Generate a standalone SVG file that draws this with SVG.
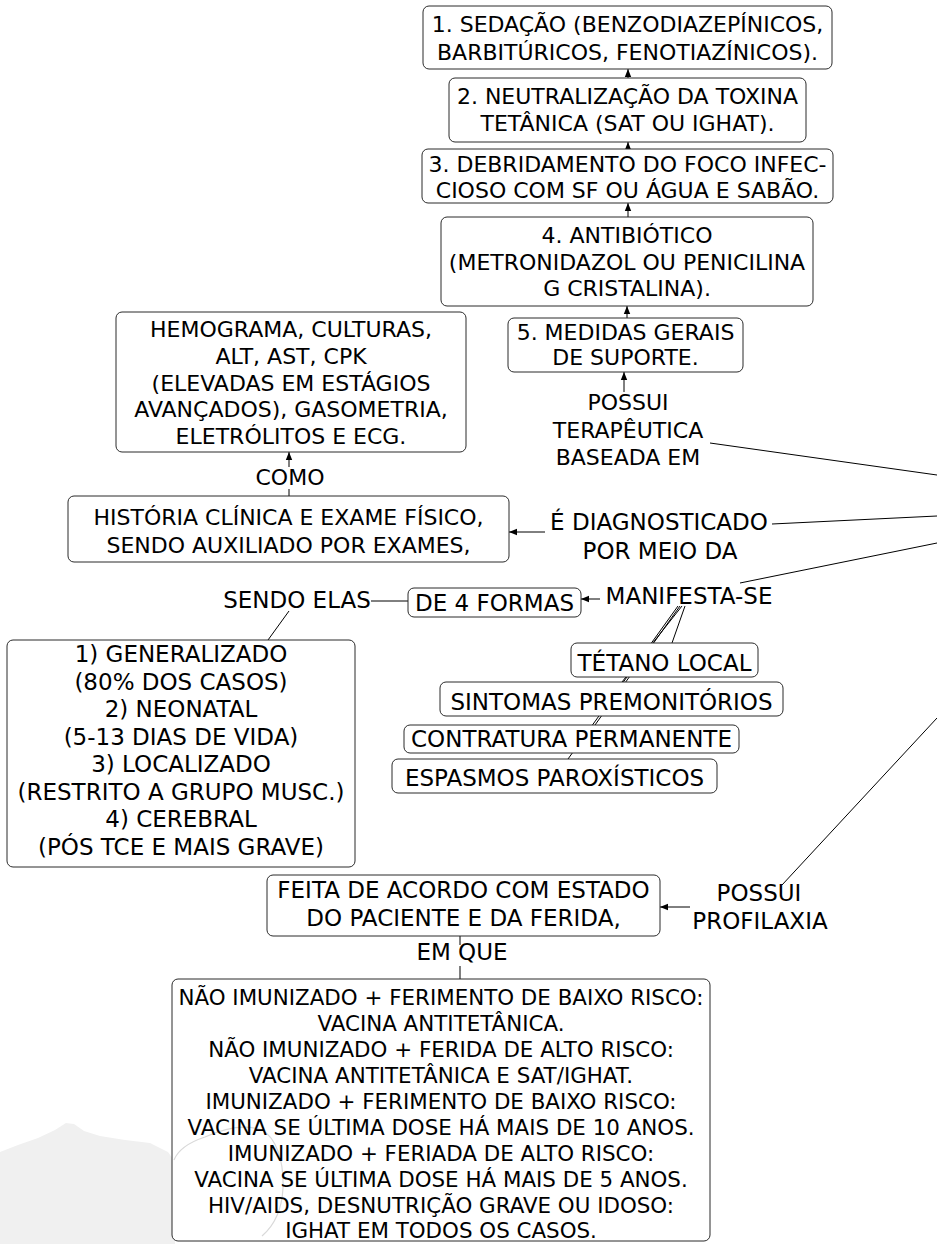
<svg xmlns="http://www.w3.org/2000/svg" width="937" height="1244" viewBox="0 0 937 1244">
  <defs>
    <style>
      .box { fill: #ffffff; stroke: #2b2b2b; stroke-width: 1; }
      .t { font-family: "DejaVu Sans", Verdana, "Liberation Sans", sans-serif; font-size: 22px; fill: #000; text-anchor: middle; }
      .t23 { font-size: 23px; }
      .t21 { font-size: 21.4px; }
      .link { stroke: #000; stroke-width: 1; fill: none; }
      .arrow { stroke: #000; stroke-width: 1; fill: none; marker-end: url(#head); }
      .wm { fill: #f0f0f0; }
      .wmline { fill: none; stroke: #d9d9d9; stroke-width: 1.2; }
    </style>
    <marker id="head" viewBox="0 0 8 8" refX="8" refY="4" markerWidth="8" markerHeight="8" markerUnits="userSpaceOnUse" orient="auto">
      <path d="M0,0.8 L8,4 L0,7.2 Z" fill="#000"/>
    </marker>
  </defs>

  <rect width="937" height="1244" fill="#ffffff"/>

  <!-- faint background emblem, lower left -->
  <g id="emblem">
    <path class="wm" d="M0,1152 L18,1145 L38,1138 L55,1130 L66,1123 L74,1124 L84,1131 L100,1136 L125,1140 L150,1143 L168,1152 L175,1162 L175,1244 L0,1244 Z"/>
  </g>

  <!-- connectors -->
  <g id="connectors">
    <!-- therapy chain -->
    <line class="arrow" x1="628" y1="78" x2="628" y2="69"/>
    <line class="arrow" x1="628" y1="149" x2="628" y2="142"/>
    <line class="arrow" x1="628" y1="217" x2="628" y2="203"/>
    <line class="arrow" x1="627" y1="318" x2="627" y2="306"/>
    <line class="arrow" x1="624" y1="392" x2="624" y2="372"/>
    <line class="link" x1="710" y1="443" x2="937" y2="475"/>
    <!-- diagnosis -->
    <line class="link" x1="772" y1="524" x2="937" y2="516"/>
    <line class="arrow" x1="545" y1="532" x2="509" y2="532"/>
    <line class="arrow" x1="289" y1="467" x2="289" y2="452"/>
    <line class="link" x1="289" y1="489" x2="289" y2="496"/>
    <!-- manifestations -->
    <line class="link" x1="740" y1="583" x2="937" y2="543"/>
    <line class="arrow" x1="600" y1="599" x2="581" y2="599"/>
    <line class="link" x1="371" y1="601" x2="408" y2="601"/>
    <line class="link" x1="289" y1="611" x2="268" y2="640"/>
    <line class="link" x1="685" y1="606" x2="672" y2="643"/>
    <line class="link" x1="682" y1="606" x2="622" y2="682"/>
    <line class="link" x1="680" y1="606" x2="595" y2="725"/>
    <line class="link" x1="678" y1="606" x2="568" y2="759"/>
    <!-- prophylaxis -->
    <line class="link" x1="782" y1="885" x2="937" y2="718"/>
    <line class="arrow" x1="690" y1="907" x2="660" y2="907"/>
    <line class="link" x1="460" y1="936" x2="460" y2="945"/>
    <line class="link" x1="460" y1="966" x2="460" y2="979"/>
  </g>

  <g id="n-sedacao">
    <rect class="box" x="423" y="6" width="409" height="63" rx="6"/>
    <text class="t"><tspan x="627.5" y="32">1. SEDAÇÃO (BENZODIAZEPÍNICOS,</tspan><tspan x="627.5" y="60">BARBITÚRICOS, FENOTIAZÍNICOS).</tspan></text>
  </g>
  <g id="n-neutralizacao">
    <rect class="box" x="449" y="78" width="357" height="64" rx="6"/>
    <text class="t"><tspan x="627.5" y="104">2. NEUTRALIZAÇÃO DA TOXINA</tspan><tspan x="627.5" y="131">TETÂNICA (SAT OU IGHAT).</tspan></text>
  </g>
  <g id="n-debridamento">
    <rect class="box" x="422" y="149" width="411" height="54" rx="6"/>
    <text class="t"><tspan x="627.5" y="172">3. DEBRIDAMENTO DO FOCO INFEC-</tspan><tspan x="627.5" y="198">CIOSO COM SF OU ÁGUA E SABÃO.</tspan></text>
  </g>
  <g id="n-antibiotico">
    <rect class="box" x="441" y="217" width="372" height="89" rx="6"/>
    <text class="t"><tspan x="627" y="243">4. ANTIBIÓTICO</tspan><tspan x="627" y="269.5">(METRONIDAZOL OU PENICILINA</tspan><tspan x="627" y="296">G CRISTALINA).</tspan></text>
  </g>
  <g id="n-medidas">
    <rect class="box" x="508" y="318" width="235" height="54" rx="6"/>
    <text class="t"><tspan x="625.5" y="340">5. MEDIDAS GERAIS</tspan><tspan x="625.5" y="365">DE SUPORTE.</tspan></text>
  </g>
  <g id="l-terapeutica">
    <text class="t"><tspan x="628" y="410">POSSUI</tspan><tspan x="628" y="437.5">TERAPÊUTICA</tspan><tspan x="628" y="465">BASEADA EM</tspan></text>
  </g>

  <g id="n-exames">
    <rect class="box" x="116" y="312" width="350" height="140" rx="6"/>
    <text class="t"><tspan x="291" y="337">HEMOGRAMA, CULTURAS,</tspan><tspan x="291" y="364">ALT, AST, CPK</tspan><tspan x="291" y="391">(ELEVADAS EM ESTÁGIOS</tspan><tspan x="291" y="417">AVANÇADOS), GASOMETRIA,</tspan><tspan x="291" y="444">ELETRÓLITOS E ECG.</tspan></text>
  </g>
  <g id="l-como">
    <text class="t" x="290" y="485">COMO</text>
  </g>
  <g id="n-historia">
    <rect class="box" x="68" y="496" width="441" height="66" rx="6"/>
    <text class="t"><tspan x="288.5" y="525">HISTÓRIA CLÍNICA E EXAME FÍSICO,</tspan><tspan x="288.5" y="553">SENDO AUXILIADO POR EXAMES,</tspan></text>
  </g>
  <g id="l-diagnosticado">
    <text class="t t23"><tspan x="659" y="530">É DIAGNOSTICADO</tspan><tspan x="660" y="559">POR MEIO DA</tspan></text>
  </g>

  <g id="l-manifesta">
    <text class="t t23" x="689" y="604">MANIFESTA-SE</text>
  </g>
  <g id="n-formas">
    <rect class="box" x="408" y="588" width="173" height="29" rx="6"/>
    <text class="t t23" x="494.5" y="611">DE 4 FORMAS</text>
  </g>
  <g id="l-sendo">
    <text class="t t23" x="297" y="608">SENDO ELAS</text>
  </g>
  <g id="n-tipos">
    <rect class="box" x="7" y="640" width="348" height="227" rx="6"/>
    <text class="t t23"><tspan x="181" y="662">1) GENERALIZADO</tspan><tspan x="181" y="689.5">(80% DOS CASOS)</tspan><tspan x="181" y="717">2) NEONATAL</tspan><tspan x="181" y="744.5">(5-13 DIAS DE VIDA)</tspan><tspan x="181" y="772">3) LOCALIZADO</tspan><tspan x="181" y="799.5">(RESTRITO A GRUPO MUSC.)</tspan><tspan x="181" y="827">4) CEREBRAL</tspan><tspan x="181" y="854.5">(PÓS TCE E MAIS GRAVE)</tspan></text>
  </g>

  <g id="n-tetano-local">
    <rect class="box" x="571" y="643" width="187" height="34" rx="6"/>
    <text class="t t23" x="664.5" y="671">TÉTANO LOCAL</text>
  </g>
  <g id="n-sintomas">
    <rect class="box" x="440" y="682" width="343" height="34" rx="6"/>
    <text class="t t23" x="611.5" y="710">SINTOMAS PREMONITÓRIOS</text>
  </g>
  <g id="n-contratura">
    <rect class="box" x="404" y="725" width="335" height="28" rx="6"/>
    <text class="t t23" x="571.5" y="747">CONTRATURA PERMANENTE</text>
  </g>
  <g id="n-espasmos">
    <rect class="box" x="392" y="759" width="325" height="34" rx="6"/>
    <text class="t t23" x="554.5" y="786">ESPASMOS PAROXÍSTICOS</text>
  </g>

  <g id="l-profilaxia">
    <text class="t t23"><tspan x="759" y="901">POSSUI</tspan><tspan x="760" y="929">PROFILAXIA</tspan></text>
  </g>
  <g id="n-feita">
    <rect class="box" x="267" y="875" width="393" height="61" rx="6"/>
    <text class="t t23"><tspan x="463.5" y="898">FEITA DE ACORDO COM ESTADO</tspan><tspan x="463.5" y="926">DO PACIENTE E DA FERIDA,</tspan></text>
  </g>
  <g id="l-emque">
    <text class="t t23" x="462" y="960">EM QUE</text>
  </g>
  <g id="n-condutas">
    <rect class="box" x="172" y="979" width="538" height="262" rx="6"/>
    <path class="wmline" d="M174,1160 C178,1150 190,1142 205,1137 C225,1128 245,1124 262,1130 C276,1138 284,1160 283,1188 C282,1208 276,1224 262,1236"/>
    <text class="t t21"><tspan x="441" y="1005">NÃO IMUNIZADO + FERIMENTO DE BAIXO RISCO:</tspan><tspan x="441" y="1031">VACINA ANTITETÂNICA.</tspan><tspan x="441" y="1057">NÃO IMUNIZADO + FERIDA DE ALTO RISCO:</tspan><tspan x="441" y="1083">VACINA ANTITETÂNICA E SAT/IGHAT.</tspan><tspan x="441" y="1109">IMUNIZADO + FERIMENTO DE BAIXO RISCO:</tspan><tspan x="441" y="1135">VACINA SE ÚLTIMA DOSE HÁ MAIS DE 10 ANOS.</tspan><tspan x="441" y="1161">IMUNIZADO + FERIADA DE ALTO RISCO:</tspan><tspan x="441" y="1187">VACINA SE ÚLTIMA DOSE HÁ MAIS DE 5 ANOS.</tspan><tspan x="441" y="1213">HIV/AIDS, DESNUTRIÇÃO GRAVE OU IDOSO:</tspan><tspan x="441" y="1238">IGHAT EM TODOS OS CASOS.</tspan></text>
  </g>
</svg>
